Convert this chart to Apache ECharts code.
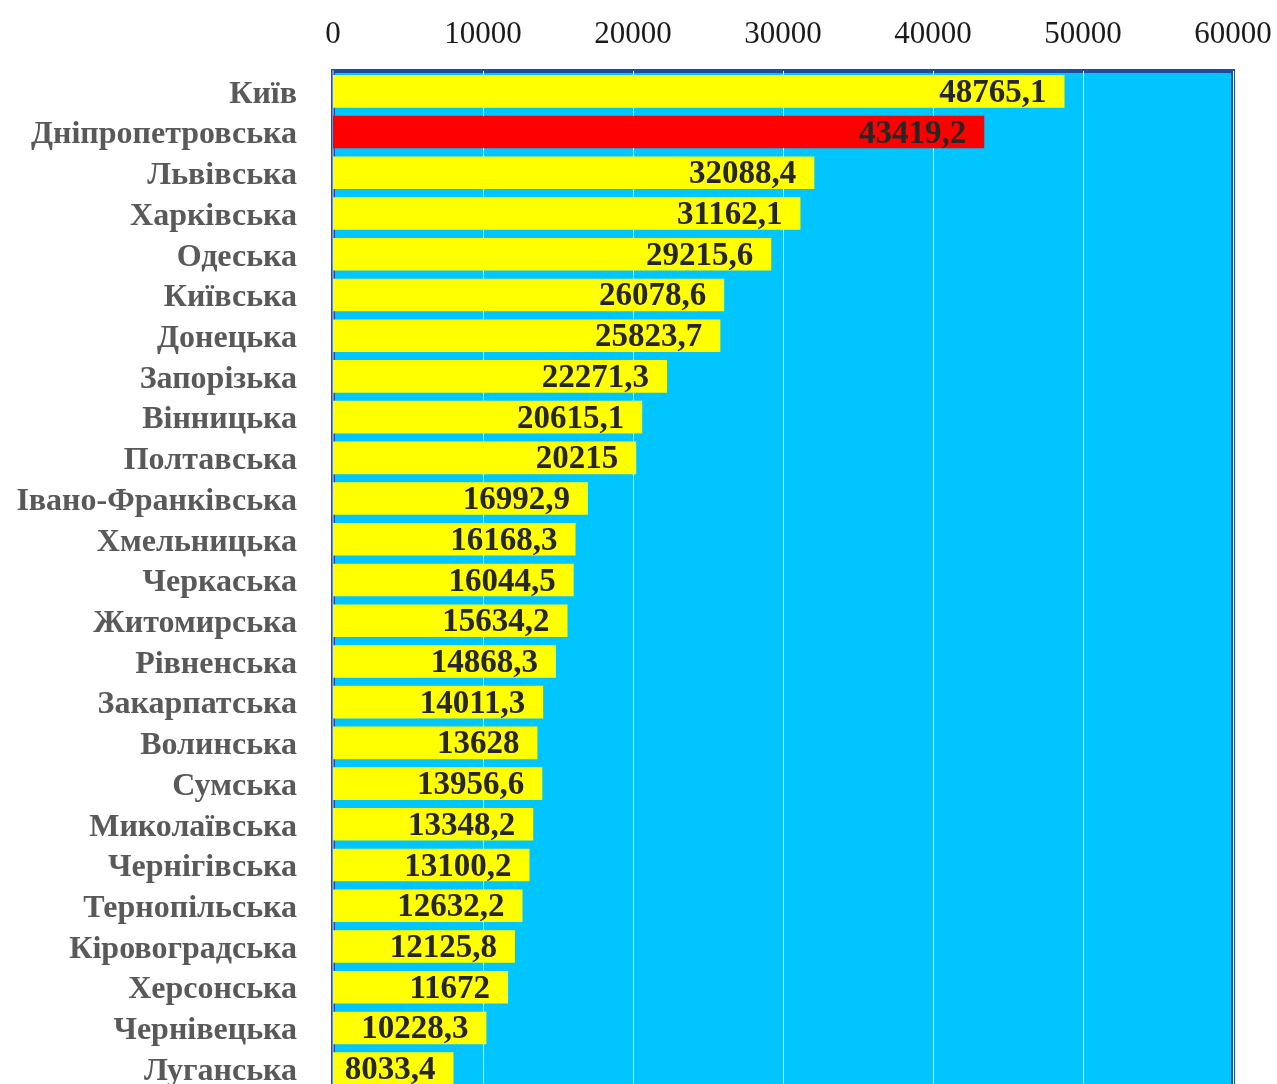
<!DOCTYPE html>
<html>
<head>
<meta charset="utf-8">
<script src="https://cdn.jsdelivr.net/npm/echarts@6/dist/echarts.min.js"></script>
<style>
  html, body { margin: 0; padding: 0; background: #ffffff; }
  #chart { width: 1277px; height: 1084px; }
</style>
</head>
<body>
<div id="chart"></div>
<script>
// Regions of Ukraine, ordered from the largest value to the smallest
const regions = [
  'Київ', 'Дніпропетровська', 'Львівська', 'Харківська', 'Одеська',
  'Київська', 'Донецька', 'Запорізька', 'Вінницька', 'Полтавська',
  'Івано-Франківська', 'Хмельницька', 'Черкаська', 'Житомирська', 'Рівненська',
  'Закарпатська', 'Волинська', 'Сумська', 'Миколаївська', 'Чернігівська',
  'Тернопільська', 'Кіровоградська', 'Херсонська', 'Чернівецька', 'Луганська'
];

const values = [
  48765.1, 43419.2, 32088.4, 31162.1, 29215.6,
  26078.6, 25823.7, 22271.3, 20615.1, 20215,
  16992.9, 16168.3, 16044.5, 15634.2, 14868.3,
  14011.3, 13628, 13956.6, 13348.2, 13100.2,
  12632.2, 12125.8, 11672, 10228.3, 8033.4
];

// The region drawn in red
const highlighted = ['Дніпропетровська'];

const axisMin = 0;
const axisMax = 60000;
const axisStep = 10000;

const serif = '"Liberation Serif", "Times New Roman", serif';

const barData = regions.map((name, i) => ({
  value: values[i],
  itemStyle: { color: highlighted.includes(name) ? '#FF0000' : '#FFFF00' }
}));

const chart = echarts.init(document.getElementById('chart'), null, { renderer: 'canvas' });

chart.setOption({
  animation: false,
  backgroundColor: '#ffffff',
  grid: {
    left: 333,
    top: 71,
    width: 900,
    height: 1018,
    outerBoundsMode: 'none',
    containLabel: false,
    show: true,
    backgroundColor: '#00C5FF',
    borderColor: '#1D4F9A',
    borderWidth: 4
  },
  xAxis: {
    type: 'value',
    position: 'top',
    min: axisMin,
    max: axisMax,
    interval: axisStep,
    axisLine: { show: false },
    axisTick: { show: false },
    axisLabel: {
      margin: 21,
      fontFamily: serif,
      fontSize: 31,
      color: '#1a1a1a',
      formatter: v => String(v)
    },
    splitLine: { show: true, lineStyle: { color: '#ffffff', width: 1 } }
  },
  yAxis: {
    type: 'category',
    inverse: true,
    data: regions,
    axisLine: { show: true, lineStyle: { color: '#6F93CC', width: 2 } },
    axisTick: { show: false },
    axisLabel: {
      interval: 0,
      margin: 36,
      formatter: v => '{name|' + v + '}',
      rich: {
        name: {
          padding: [6, 0, 0, 0],
          fontFamily: serif,
          fontWeight: 'bold',
          fontSize: 32,
          color: '#595959'
        }
      }
    }
  },
  series: [{
    type: 'bar',
    data: barData,
    barCategoryGap: '20%',
    label: {
      show: true,
      position: 'insideRight',
      distance: 18,
      offset: [0, 2],
      fontFamily: serif,
      fontWeight: 'bold',
      fontSize: 33,
      color: '#262626',
      formatter: p => String(p.value).replace('.', ',')
    }
  }]
});
</script>
</body>
</html>
